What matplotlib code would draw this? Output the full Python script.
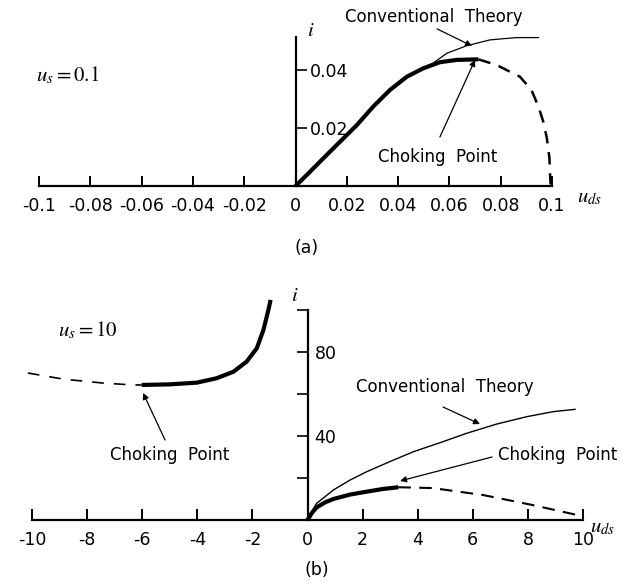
import numpy as np
import matplotlib
matplotlib.use('Agg')
import matplotlib.pyplot as plt

plt.rcParams['font.family'] = ['DejaVu Sans']
plt.rcParams['mathtext.fontset'] = 'stix'

# ---- dados (a) u_s = 0.1 ----
a_chok_x = [0.0, 0.0044, 0.0108, 0.0174, 0.0239, 0.0303, 0.0368, 0.0434, 0.0498, 0.0563, 0.0629, 0.0713]
a_chok_y = [0.0, 0.0038, 0.0095, 0.0153, 0.0210, 0.0274, 0.0331, 0.0377, 0.0406, 0.0427, 0.0435, 0.0437]
a_conv_x = [0.0, 0.0044, 0.0108, 0.0174, 0.0239, 0.0303, 0.0368, 0.0434, 0.0498, 0.0537, 0.059, 0.0668, 0.0758, 0.0862, 0.0947]
a_conv_y = [0.0, 0.0038, 0.0095, 0.0153, 0.0210, 0.0274, 0.0331, 0.0377, 0.0407, 0.0424, 0.0458, 0.0484, 0.0504, 0.0512, 0.0512]
a_dash_x = [0.0713, 0.0785, 0.0875, 0.092, 0.0947, 0.0966, 0.098, 0.099, 0.0993, 0.0995]
a_dash_y = [0.0437, 0.0417, 0.0377, 0.0331, 0.0274, 0.0222, 0.0165, 0.0096, 0.0028, 0.0005]
a_xticks = [-0.1, -0.08, -0.06, -0.04, -0.02, 0, 0.02, 0.04, 0.06, 0.08, 0.1]
a_xlabels = ['-0.1', '-0.08', '-0.06', '-0.04', '-0.02', '0', '0.02', '0.04', '0.06', '0.08', '0.1']
a_yticks = [0.02, 0.04]
a_ylabels = ['0.02', '0.04']

# ---- dados (b) u_s = 10 ----
b_conv_x = [0.0, 0.15, 0.33, 0.94, 1.54, 2.15, 2.99, 3.84, 4.81, 5.78, 6.87, 7.96, 8.92, 9.71]
b_conv_y = [0.0, 4.0, 7.9, 14.3, 19.0, 23.0, 27.8, 32.5, 36.8, 41.3, 45.7, 49.2, 51.6, 52.7]
b_chok_x = [0.0, 0.15, 0.33, 0.64, 0.94, 1.54, 2.15, 2.75, 3.30]
b_chok_y = [0.0, 3.2, 6.0, 8.4, 10.0, 12.1, 13.5, 14.8, 15.6]
b_dash_x = [3.30, 4.55, 6.37, 8.18, 9.78, 10.0]
b_dash_y = [15.6, 15.2, 11.9, 7.1, 2.4, 1.2]
b_left_x = [-6.02, -4.99, -4.02, -3.30, -2.69, -2.21, -1.84, -1.60, -1.42, -1.34]
b_left_y = [64.3, 64.6, 65.4, 67.5, 70.6, 75.4, 81.8, 90.5, 100.0, 104.8]
b_ldash_x = [-10.15, -8.87, -7.42, -6.33, -6.02]
b_ldash_y = [70.0, 67.1, 65.2, 64.3, 64.3]
b_xticks = [-10, -8, -6, -4, -2, 0, 2, 4, 6, 8, 10]
b_xlabels = ['-10', '-8', '-6', '-4', '-2', '0', '2', '4', '6', '8', '10']
b_ymajor = [40, 80]
b_ylabels = ['40', '80']
b_yminor = [20, 60, 100]

W, H = 622, 584
fig = plt.figure(figsize=(W / 100, H / 100), dpi=100)


def eixo(ax):
    ax.spines['top'].set_visible(False)
    ax.spines['left'].set_position(('data', 0))
    ax.spines['right'].set_position(('data', 0))
    ax.spines['right'].set_color('none')
    ax.spines['left'].set_linewidth(1.6)
    ax.spines['bottom'].set_linewidth(1.6)
    ax.patch.set_alpha(0)


seta = dict(arrowstyle='-|>', lw=0.9, color='black', mutation_scale=9, shrinkA=0, shrinkB=0)

# ================= (a) =================
ax1 = fig.add_axes([39 / W, 1 - 186 / H, 513 / W, 149 / H])
eixo(ax1)
ax1.set_xlim(-0.1, 0.1)
ax1.set_ylim(0, 0.0514)

ax1.plot(a_conv_x, a_conv_y, color='black', lw=0.9, clip_on=False)
ax1.plot(a_chok_x, a_chok_y, color='black', lw=3.0, clip_on=False, solid_capstyle='butt')
ax1.plot(a_dash_x, a_dash_y, color='black', lw=1.8, ls=(0, (5, 3.5)), clip_on=False)

ax1.set_xticks(a_xticks)
ax1.set_xticklabels(a_xlabels, fontsize=12.5)
ax1.tick_params(axis='x', direction='in', length=7, width=1.4, pad=8)
ax1.set_yticks(a_yticks)
ax1.set_yticklabels(a_ylabels, fontsize=12.5)
ax1.tick_params(axis='y', direction='in', length=8, width=1.2, left=True, right=False,
                labelleft=False, labelright=True, pad=10)

ax1.text(-0.0887, 0.0383, r'$u_s = 0.1$', fontsize=15, ha='center', va='center')
ax1.text(0.0045, 0.0538, r'$i$', fontsize=15, ha='left', va='center')
ax1.text(0.1148, -0.0038, r'$u_{ds}$', fontsize=15, ha='center', va='center')
ax1.annotate('', xy=(0.0688, 0.0483), xytext=(0.0552, 0.0542), arrowprops=seta, annotation_clip=False)
ax1.text(0.054, 0.0583, 'Conventional  Theory', fontsize=12, ha='center', va='center')
ax1.annotate('', xy=(0.070, 0.0435), xytext=(0.0563, 0.0169), arrowprops=seta, annotation_clip=False)
ax1.text(0.0556, 0.010, 'Choking  Point', fontsize=12, ha='center', va='center')

fig.text(307 / W, 1 - 248 / H, '(a)', fontsize=12.5, ha='center', va='center')

# ================= (b) =================
ax2 = fig.add_axes([32 / W, 1 - 520 / H, 551 / W, 210 / H])
eixo(ax2)
ax2.set_xlim(-10, 10)
ax2.set_ylim(0, 100)

ax2.plot(b_conv_x, b_conv_y, color='black', lw=1.0, clip_on=False)
ax2.plot(b_chok_x, b_chok_y, color='black', lw=3.0, clip_on=False, solid_capstyle='butt')
ax2.plot(b_dash_x, b_dash_y, color='black', lw=1.5, ls=(0, (6, 4)), clip_on=False)
ax2.plot(b_left_x, b_left_y, color='black', lw=3.0, clip_on=False, solid_capstyle='butt')
ax2.plot(b_ldash_x, b_ldash_y, color='black', lw=1.2, ls=(0, (7, 6)), clip_on=False)

ax2.set_xticks(b_xticks)
ax2.set_xticklabels(b_xlabels, fontsize=12.5)
ax2.tick_params(axis='x', direction='in', length=8, width=1.4, pad=8)
ax2.set_yticks(b_ymajor)
ax2.set_yticklabels(b_ylabels, fontsize=12.5)
ax2.set_yticks(b_yminor, minor=True)
ax2.tick_params(axis='y', which='both', direction='out', length=8, width=1.2, left=True,
                right=False, labelleft=False, labelright=True, pad=-3)

ax2.text(-7.97, 90.5, r'$u_s = 10$', fontsize=15, ha='center', va='center')
ax2.text(-0.45, 107, r'$i$', fontsize=15, ha='center', va='center')
ax2.text(10.72, -3.3, r'$u_{ds}$', fontsize=15, ha='center', va='center')
ax2.annotate('', xy=(6.26, 45.7), xytext=(4.92, 53.8), arrowprops=seta, annotation_clip=False)
ax2.text(4.99, 63.3, 'Conventional  Theory', fontsize=12, ha='center', va='center')
ax2.annotate('', xy=(3.36, 18.6), xytext=(6.70, 30.0), arrowprops=seta, annotation_clip=False)
ax2.text(6.91, 31.0, 'Choking  Point', fontsize=12, ha='left', va='center')
ax2.annotate('', xy=(-5.97, 60.5), xytext=(-5.17, 38.1), arrowprops=seta, annotation_clip=False)
ax2.text(-4.99, 31.0, 'Choking  Point', fontsize=12, ha='center', va='center')

fig.text(317 / W, 1 - 570 / H, '(b)', fontsize=12.5, ha='center', va='center')

fig.savefig('out.png', dpi=100)
